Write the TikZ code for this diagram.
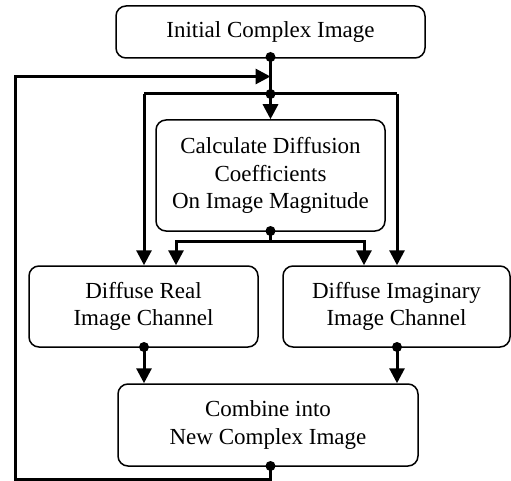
\documentclass[tikz,border=0pt]{standalone}
\usepackage{fontspec}
\setmainfont{Liberation Serif}
\usetikzlibrary{arrows.meta}
\begin{document}
\begin{tikzpicture}[x=1pt,y=-1pt,
  box/.style={draw,line width=1.5pt,rounded corners=10pt,align=center,inner sep=0pt,
    font=\fontsize{23}{27.5}\selectfont},
  conn/.style={line width=3pt,-{Triangle[width=15pt,length=15pt]}},
  plain/.style={line width=3pt},
  jdot/.style={circle,fill,inner sep=0pt,minimum size=10pt}]
\useasboundingbox (0,0) rectangle (511,481);
\node[box,minimum width=309pt,minimum height=52pt] (init) at (270.5,32) {Initial Complex Image};
\node[box,minimum width=229pt,minimum height=111pt] (calc) at (270.5,175.5) {Calculate Diffusion\\Coefficients\\On Image Magnitude};
\node[box,minimum width=229pt,minimum height=81pt] (real) at (143.5,306.5) {Diffuse Real\\Image Channel};
\node[box,minimum width=227pt,minimum height=81pt] (imag) at (396.5,306.5) {Diffuse Imaginary\\Image Channel};
\node[box,minimum width=300pt,minimum height=82pt] (comb) at (268,425) {Combine into\\New Complex Image};
% junctions
\node[jdot] (d1) at (270.5,57) {};
\node[jdot] (d2) at (270.5,94) {};
\node[jdot] (d3) at (270.5,231) {};
\node[jdot] (d4) at (144,347) {};
\node[jdot] (d5) at (397,347) {};
\node[jdot] (d6) at (270.5,466) {};
\coordinate (fb) at (270.5,76.5);
\coordinate (jl) at (144,94);
\coordinate (jr) at (397,94);
\coordinate (cl) at (176,241.5);
\coordinate (cr) at (364,241.5);
\coordinate (cm) at (270.5,241.5);
\coordinate (bl) at (15,479);
\coordinate (tl) at (15,76.5);
\coordinate (bm) at (270.5,479);
% top trunk
\draw[plain] (d1.center) -- (d2.center);
\draw[conn] (d2.center) -- (calc.north);
\draw[conn] (jl) -- (jl |- real.north);
\draw[conn] (jr) -- (jr |- imag.north);
\draw[plain] (jl) -- (jr);
% calc outputs
\draw[plain] (d3.center) -- (cm);
\draw[conn] (cm) -| (cl |- real.north);
\draw[conn] (cm) -| (cr |- imag.north);
% diffuse outputs
\draw[conn] (d4.center) -- (d4 |- comb.north);
\draw[conn] (d5.center) -- (d5 |- comb.north);
% feedback
\draw[conn] (d6.center) -- (bm) -- (bl) -- (tl) -- (fb);
\end{tikzpicture}
\end{document}
